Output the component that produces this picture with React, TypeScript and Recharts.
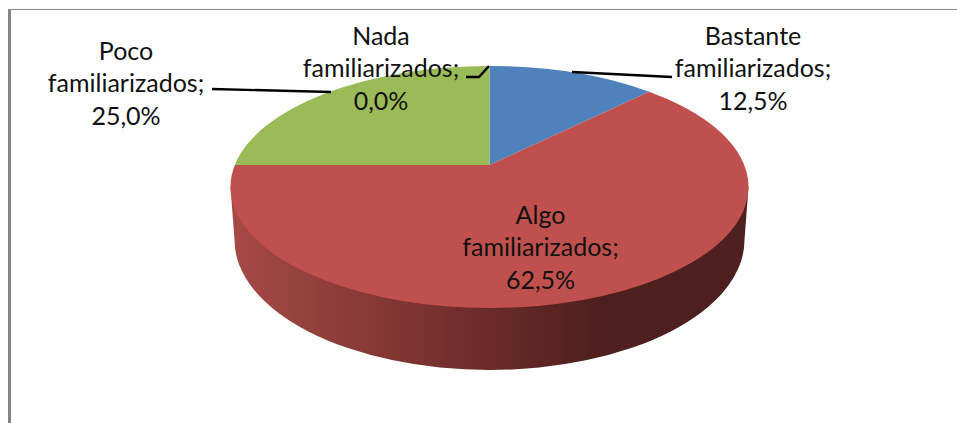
import React from 'react';
import { PieChart, Pie, Cell } from 'recharts';

const categories = ['Bastante familiarizados', 'Algo familiarizados', 'Poco familiarizados', 'Nada familiarizados'];
const shares = [12.5, 62.5, 25.0, 0.0];
const sliceColors = ['#4F81BD', '#C0504D', '#9BBB59', '#8064A2'];

const chartData = categories.map((name, i) => ({ name, value: shares[i] }));

const WIDTH = 957;
const HEIGHT = 423;

// where the apex of the slices sits, the top face is a bit off centre because of the perspective
const RIM_OFFSET_Y = 22;
const RIM_RY = 121;
const RAY_SQUASH = 0.459;
// bottom edge of the wall
const WALL_OFFSET_Y = 75;
const WALL_RX_DELTA = 4;
const WALL_RY = 130;

// label text centres and leader lines, by slice
const labelLayout = [
  { x: 753, y: 34.5, line: [[572, 72], [672, 77]] },
  { x: 540.5, y: 213.5, line: [] },
  { x: 126, y: 49.5, line: [[212, 89], [331, 92]] },
  { x: 381, y: 34.5, line: [[466, 77], [479, 77], [489, 66]] },
];

const rimPoint = (cx: number, cy: number, rx: number, angle: number) => {
  const rad = (angle * Math.PI) / 180;
  const dx = Math.cos(rad);
  const dy = -Math.sin(rad) * RAY_SQUASH;
  const a = (dx * dx) / (rx * rx) + (dy * dy) / (RIM_RY * RIM_RY);
  const b = (-2 * RIM_OFFSET_Y * dy) / (RIM_RY * RIM_RY);
  const c = (RIM_OFFSET_Y * RIM_OFFSET_Y) / (RIM_RY * RIM_RY) - 1;
  const t = (-b + Math.sqrt(b * b - 4 * a * c)) / (2 * a);
  return { x: cx + t * dx, y: cy + t * dy };
};

const Slice = (props: any) => {
  const { cx, cy, outerRadius, startAngle, endAngle, fill, index } = props;
  if (Math.abs(startAngle - endAngle) < 0.01) return null;

  const p0 = rimPoint(cx, cy, outerRadius, startAngle);
  const p1 = rimPoint(cx, cy, outerRadius, endAngle);
  const rimCy = cy + RIM_OFFSET_Y;
  const a0 = Math.atan2((p0.y - rimCy) / RIM_RY, (p0.x - cx) / outerRadius);
  const a1 = Math.atan2((p1.y - rimCy) / RIM_RY, (p1.x - cx) / outerRadius);
  let sweep = a1 - a0;
  if (sweep < 0) sweep += Math.PI * 2;
  const large = sweep > Math.PI ? 1 : 0;

  // only the big slice reaches the front, so the wall belongs to it
  const hasWall = startAngle > -90 && endAngle < -90;
  const wallCy = cy + WALL_OFFSET_Y;
  const wallRx = outerRadius - WALL_RX_DELTA;

  return (
    <g data-slice={index}>
      {hasWall && (
        <path
          d={`M ${cx - outerRadius} ${rimCy} L ${cx - wallRx} ${wallCy} A ${wallRx} ${WALL_RY} 0 0 0 ${cx + wallRx} ${wallCy} L ${cx + outerRadius} ${rimCy} Z`}
          fill="url(#wallShade)"
        />
      )}
      <path
        d={`M ${cx} ${cy} L ${p0.x} ${p0.y} A ${outerRadius} ${RIM_RY} 0 ${large} 1 ${p1.x} ${p1.y} Z`}
        fill={fill}
      />
    </g>
  );
};

const SliceLabel = (props: any) => {
  const { index } = props;
  const layout = labelLayout[index];
  const words = categories[index].split(' ');
  const pct = shares[index].toFixed(1).replace('.', ',') + '%';
  const rows = [words[0], words[1] + ';', pct];
  return (
    <g>
      {layout.line.length > 0 && (
        <polyline
          points={layout.line.map((p) => p.join(',')).join(' ')}
          fill="none"
          stroke="#000"
          strokeWidth={2.4}
        />
      )}
      {rows.map((row, i) => (
        <text
          key={i}
          x={layout.x}
          y={layout.y + i * 32.7}
          textAnchor="middle"
          dominantBaseline="central"
          fontFamily="Lato, 'Open Sans', sans-serif"
          fontSize={25}
          fill="#111"
        >
          {row}
        </text>
      ))}
    </g>
  );
};

export default function App() {
  return (
    <div style={{ position: 'absolute', left: 0, top: 0, width: WIDTH, height: HEIGHT, background: '#fff', overflow: 'hidden' }}>
      <div style={{ position: 'absolute', left: 8, top: 9, width: WIDTH, height: HEIGHT, boxSizing: 'border-box', borderLeft: '3px solid #868686', borderTop: '1.5px solid #868686' }} />
      <div style={{ position: 'absolute', left: 0, top: 0 }}>
        <PieChart width={WIDTH} height={HEIGHT} margin={{ top: 0, right: 0, bottom: 0, left: 0 }}>
          <defs>
            <linearGradient id="wallShade" x1="0" y1="0" x2="1" y2="0">
              <stop offset="0" stopColor="#A64A46" />
              <stop offset="0.27" stopColor="#873936" />
              <stop offset="0.5" stopColor="#6A2A29" />
              <stop offset="0.72" stopColor="#4D1F1E" />
              <stop offset="1" stopColor="#4D1F1E" />
            </linearGradient>
          </defs>
          <Pie
            data={chartData}
            dataKey="value"
            nameKey="name"
            cx={489.5}
            cy={165}
            outerRadius={259}
            startAngle={90}
            endAngle={-270}
            stroke="none"
            shape={Slice}
            label={SliceLabel}
            labelLine={false}
            isAnimationActive={false}
          >
            {chartData.map((entry, i) => (
              <Cell key={entry.name} fill={sliceColors[i]} />
            ))}
          </Pie>
        </PieChart>
      </div>
    </div>
  );
}
